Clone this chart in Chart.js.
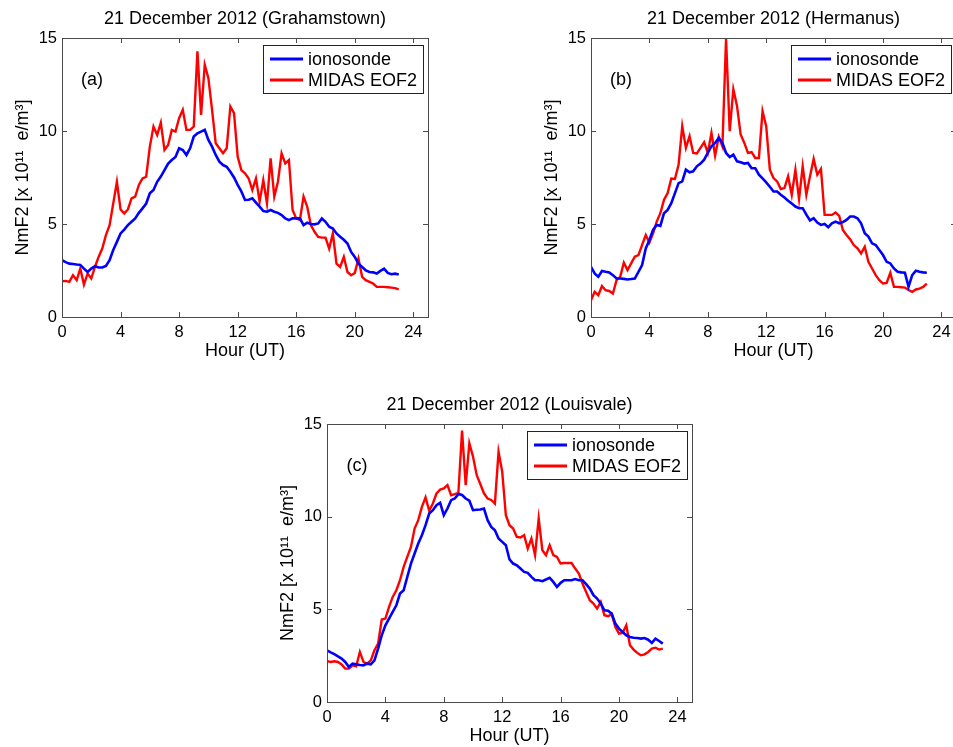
<!DOCTYPE html>
<html>
<head>
<meta charset="utf-8">
<script src="https://cdn.jsdelivr.net/npm/chart.js@4.4.0/dist/chart.umd.min.js"></script>
<style>
  body { margin: 0; background: #fff; overflow: hidden; }
  #page { position: relative; width: 953px; height: 747px; overflow: hidden; background: #fff; }
  .panel { position: absolute; }
  .panel canvas { display: block; }
</style>
</head>
<body>
<div id="page">
  <div class="panel"><canvas id="chartA"></canvas></div>
  <div class="panel"><canvas id="chartB"></canvas></div>
  <div class="panel"><canvas id="chartC"></canvas></div>
</div>
<script>
// Time axis (UT hours, 15 min steps)
const hours = [
  0, 0.25, 0.5, 0.75,   1, 1.25, 1.5, 1.75,   2, 2.25, 2.5, 2.75,
  3, 3.25, 3.5, 3.75,   4, 4.25, 4.5, 4.75,   5, 5.25, 5.5, 5.75,
  6, 6.25, 6.5, 6.75,   7, 7.25, 7.5, 7.75,   8, 8.25, 8.5, 8.75,
  9, 9.25, 9.5, 9.75,   10, 10.25, 10.5, 10.75, 11, 11.25, 11.5, 11.75,
  12, 12.25, 12.5, 12.75, 13, 13.25, 13.5, 13.75, 14, 14.25, 14.5, 14.75,
  15, 15.25, 15.5, 15.75, 16, 16.25, 16.5, 16.75, 17, 17.25, 17.5, 17.75,
  18, 18.25, 18.5, 18.75, 19, 19.25, 19.5, 19.75, 20, 20.25, 20.5, 20.75,
  21, 21.25, 21.5, 21.75, 22, 22.25, 22.5, 22.75, 23
];

const xTicks = [0, 4, 8, 12, 16, 20, 24];
const yTicks = [0, 5, 10, 15];
const seriesNames = ["ionosonde", "MIDAS EOF2"];

// Grahamstown (a)
const grahamIono = [
  3.05, 2.95, 2.87, 2.85,  2.82, 2.8, 2.6, 2.42,  2.6, 2.73, 2.66, 2.66,
  2.75, 3.05, 3.6, 4.04,  4.49, 4.7, 4.94, 5.12,  5.3, 5.6, 5.84, 6.1,
  6.65, 6.83, 7.27, 7.55,  7.9, 8.25, 8.44, 8.6,  9.07, 8.98, 8.71, 9.07,
  9.7, 9.88, 9.97, 10.06,  9.52, 9.16, 8.71, 8.35,  8.17, 8.08, 7.81, 7.5,
  7.1, 6.75, 6.29, 6.3,  6.38, 6.15, 5.93, 5.7,  5.66, 5.75, 5.66, 5.6,
  5.48, 5.3, 5.21, 5.3,  5.3, 5.3, 4.94, 5.07,  5.0, 4.98, 5.03, 5.3,
  5.12, 4.85, 4.76, 4.49,  4.31, 4.15, 3.95, 3.5,  3.23, 2.87, 2.69, 2.51,
  2.42, 2.4, 2.34, 2.48,  2.6, 2.37, 2.3, 2.33,  2.28
];
const grahamMidas = [
  1.92, 1.94, 1.89, 2.25,  1.98, 2.6, 1.74, 2.34,  2.07, 2.69, 3.23, 3.68,
  4.4, 4.94, 6.1, 7.27,  5.78, 5.57, 5.78, 6.38,  6.47, 7.1, 7.45, 7.54,
  9.16, 10.24, 9.79, 10.45,  8.98, 9.25, 10.06, 9.97,  10.69, 11.14, 10.06, 10.06,
  10.24, 14.28, 10.87, 13.56,  12.84, 11.14, 9.34, 9.07,  8.8, 9.07, 11.32, 10.96,
  8.62, 7.9, 7.72, 7.45,  6.83, 7.45, 6.2, 7.36,  6.11, 8.53, 6.47, 7.27,
  8.8, 8.26, 8.44, 5.75,  5.3, 5.21, 6.47, 5.93,  4.94, 4.58, 4.31, 4.27,
  4.27, 3.68, 4.49, 2.87,  2.69, 3.23, 2.42, 2.25,  2.37, 3.14, 2.16, 1.98,
  1.89, 1.8, 1.62, 1.62,  1.62, 1.6, 1.58, 1.55,  1.49
];

// Hermanus (b)
const hermIono = [
  2.7, 2.34, 2.16, 2.47,  2.43, 2.4, 2.25, 2.07,  2.07, 2.05, 2.02, 2.04,
  2.07, 2.43, 2.79, 3.69,  4.14, 4.68, 4.95, 4.9,  5.58, 5.76, 6.12, 6.66,
  7.2, 7.29, 7.92, 7.78,  7.83, 8.1, 8.25, 8.46,  8.82, 9.18, 9.36, 9.63,
  9.36, 8.82, 8.6, 8.73,  8.37, 8.32, 8.25, 8.28,  8.0, 8.0, 7.65, 7.45,
  7.24, 7.0, 6.75, 6.75,  6.57, 6.42, 6.25, 6.1,  5.94, 5.85, 5.85, 5.5,
  5.19, 5.31, 5.08, 4.95,  5.0, 4.83, 5.04, 5.13,  5.04, 5.1, 5.22, 5.4,
  5.4, 5.31, 5.04, 4.5,  4.32, 3.96, 3.87, 3.6,  3.33, 2.97, 2.88, 2.61,
  2.43, 2.4, 2.38, 1.62,  2.25, 2.49, 2.43, 2.4,  2.38
];
const hermMidas = [
  0.9, 1.35, 1.17, 1.67,  1.44, 1.4, 1.26, 1.98,  2.16, 2.92, 2.52, 2.88,
  3.24, 3.33, 3.87, 4.41,  4.0, 4.5, 5.13, 5.58,  6.3, 6.66, 7.44, 7.42,
  8.19, 10.26, 9.09, 9.72,  8.82, 8.79, 9.09, 9.4,  8.82, 9.9, 8.68, 9.69,
  9.18, 14.95, 9.99, 12.25,  11.35, 9.81, 9.36, 8.82,  8.86, 8.55, 8.55, 11.07,
  10.26, 7.92, 7.47, 7.29,  6.88, 6.93, 7.56, 6.57,  7.92, 6.34, 8.1, 6.57,
  7.56, 8.5, 7.65, 7.96,  5.49, 5.49, 5.49, 5.62,  5.44, 4.68, 4.41, 4.18,
  3.87, 3.69, 3.42, 3.78,  2.97, 2.61, 2.25, 1.98,  1.8, 1.83, 2.38, 1.62,
  1.62, 1.6, 1.58, 1.45,  1.35, 1.48, 1.53, 1.62,  1.8
];

// Louisvale (c)
const louisIono = [
  2.79, 2.68, 2.58, 2.46,  2.34, 2.16, 1.89, 2.07,  2.03, 2.0, 1.98, 2.07,
  2.03, 2.25, 2.88, 3.6,  4.14, 4.5, 4.86, 5.22,  5.85, 6.03, 6.75, 7.47,
  8.01, 8.55, 9.0, 9.54,  10.17, 10.35, 10.62, 10.75,  10.08, 10.44, 10.89, 10.98,
  11.22, 11.17, 10.98, 10.86,  10.35, 10.37, 10.39, 10.44,  9.81, 9.45, 9.27, 8.82,
  8.64, 8.46, 7.69, 7.47,  7.38, 7.2, 7.02, 6.97,  6.75, 6.57, 6.57, 6.52,
  6.61, 6.7, 6.48, 6.21,  6.43, 6.57, 6.57, 6.57,  6.63, 6.57, 6.57, 6.36,
  6.12, 5.76, 5.58, 5.31,  4.95, 4.92, 4.77, 4.23,  3.96, 3.78, 3.6, 3.51,
  3.47, 3.45, 3.42, 3.45,  3.36, 3.19, 3.42, 3.29,  3.15
];
const louisMidas = [
  2.21, 2.16, 2.2, 2.16,  2.03, 1.8, 1.8, 1.98,  1.93, 2.7, 2.16, 2.07,
  2.25, 2.79, 3.15, 4.45,  4.5, 5.13, 5.67, 6.03,  6.57, 7.29, 7.83, 8.37,
  9.36, 9.81, 10.53, 11.04,  10.32, 10.71, 11.25, 11.46,  11.52, 11.7, 11.16, 11.22,
  11.29, 14.64, 11.7, 13.96,  13.24, 12.25, 11.76, 11.26,  10.98, 10.9, 10.71, 13.5,
  12.43, 10.08, 9.54, 9.36,  8.91, 8.88, 9.0, 8.28,  8.82, 7.92, 9.9, 8.19,
  7.92, 8.46, 7.92, 7.83,  7.47, 7.5, 7.5, 7.5,  7.2, 6.93, 6.39, 5.94,
  5.49, 5.31, 5.04, 5.4,  4.68, 4.63, 4.74, 4.05,  3.69, 3.73, 4.14, 3.06,
  2.83, 2.65, 2.52, 2.57,  2.7, 2.88, 2.93, 2.83,  2.88
];

const FONT = "'Liberation Sans', Arial, Helvetica, sans-serif";
const AXIS_COLOR = "#4a4a4a";
Chart.defaults.font.family = FONT;
Chart.defaults.color = "#000";

// frame, inner ticks, title, panel tag and boxed legend (MATLAB look)
const matlabAxes = {
  id: "matlabAxes",
  afterDraw(chart, args, opts) {
    const ctx = chart.ctx;
    const { left, top, right, bottom } = chart.chartArea;
    const xs = chart.scales.x;
    const ys = chart.scales.y;
    ctx.save();
    ctx.strokeStyle = AXIS_COLOR;
    ctx.lineWidth = 1;
    ctx.beginPath();
    xs.ticks.forEach(t => {
      const px = Math.round(xs.getPixelForValue(t.value)) + 0.5;
      ctx.moveTo(px, bottom); ctx.lineTo(px, bottom - 5);
      ctx.moveTo(px, top); ctx.lineTo(px, top + 5);
    });
    ys.ticks.forEach(t => {
      const py = Math.round(ys.getPixelForValue(t.value)) + 0.5;
      ctx.moveTo(left, py); ctx.lineTo(left + 5, py);
      ctx.moveTo(right, py); ctx.lineTo(right - 5, py);
    });
    ctx.stroke();
    ctx.strokeRect(Math.round(left) + 0.5, Math.round(top) + 0.5,
                   Math.round(right - left), Math.round(bottom - top));

    // title
    ctx.fillStyle = "#000";
    ctx.font = "18px " + FONT;
    ctx.textAlign = "center";
    ctx.textBaseline = "middle";
    ctx.fillText(opts.title, (left + right) / 2, top - 19);

    // panel tag
    ctx.font = "18px " + FONT;
    ctx.fillText(opts.tag, left + 30, top + 42);

    // legend box
    const bw = 160, bh = 48;
    const bx = right - 165, by = top + 7;
    ctx.fillStyle = "#fff";
    ctx.fillRect(bx, by, bw, bh);
    ctx.strokeStyle = "#222";
    ctx.strokeRect(bx + 0.5, by + 0.5, bw, bh);
    ctx.font = "18px " + FONT;
    ctx.textAlign = "left";
    chart.data.datasets.forEach((ds, i) => {
      const ly = by + 14 + i * 21;
      ctx.strokeStyle = ds.borderColor;
      ctx.lineWidth = 3;
      ctx.beginPath();
      ctx.moveTo(bx + 7, ly); ctx.lineTo(bx + 40, ly);
      ctx.stroke();
      ctx.fillStyle = "#000";
      ctx.fillText(ds.label, bx + 45, ly + 1);
    });
    ctx.restore();
  }
};

// plot boxes in page pixels
const panels = [
  { id: "chartA", box: [62, 38, 428, 317], title: "21 December 2012 (Grahamstown)", tag: "(a)", iono: grahamIono, midas: grahamMidas },
  { id: "chartB", box: [591, 38, 956, 317], title: "21 December 2012 (Hermanus)", tag: "(b)", iono: hermIono, midas: hermMidas },
  { id: "chartC", box: [327, 424, 692, 702], title: "21 December 2012 (Louisvale)", tag: "(c)", iono: louisIono, midas: louisMidas }
];

const Y_AXIS_W = 62, X_AXIS_H = 55, PAD_TOP = 38, PAD_RIGHT = 48;

panels.forEach(p => {
  const [L, T, R, B] = p.box;
  const canvas = document.getElementById(p.id);
  const wrap = canvas.parentNode;
  wrap.style.left = (L - Y_AXIS_W) + "px";
  wrap.style.top = (T - PAD_TOP) + "px";
  canvas.width = (R - L) + Y_AXIS_W + PAD_RIGHT;
  canvas.height = (B - T) + PAD_TOP + X_AXIS_H;

  new Chart(canvas, {
    type: "line",
    data: {
      datasets: [{
        label: seriesNames[0],
        data: hours.map((h, i) => ({ x: h, y: p.iono[i] })),
        borderColor: "#0000ff",
        borderWidth: 2.6,
        fill: false,
      }, {
        label: seriesNames[1],
        data: hours.map((h, i) => ({ x: h, y: p.midas[i] })),
        borderColor: "#ff0000",
        borderWidth: 2.4,
        fill: false,
      }]
    },
    options: {
      responsive: false,
      animation: false,
      devicePixelRatio: 1,
      layout: { padding: { left: 0, top: PAD_TOP, right: PAD_RIGHT, bottom: 0 } },
      elements: { point: { radius: 0 }, line: { tension: 0 } },
      scales: {
        x: {
          type: "linear",
          min: 0,
          max: 25,
          afterFit: s => { s.height = X_AXIS_H; },
          afterBuildTicks: s => { s.ticks = xTicks.map(v => ({ value: v })); },
          border: { display: false },
          grid: { display: false, drawTicks: false },
          ticks: { padding: 6, maxRotation: 0, autoSkip: false, font: { size: 16.5 }, color: "#000" },
          title: { display: true, text: "Hour (UT)", color: "#000", font: { size: 18 }, padding: { top: 0, bottom: 10.2 } }
        },
        y: {
          min: 0,
          max: 15,
          afterFit: s => { s.width = Y_AXIS_W; },
          afterBuildTicks: s => { s.ticks = yTicks.map(v => ({ value: v })); },
          border: { display: false },
          grid: { display: false, drawTicks: false },
          ticks: { padding: 5, font: { size: 16.5 }, color: "#000" },
          title: { display: true, text: "NmF2 [x 10\u00B9\u00B9  e/m\u00B3]", color: "#000", font: { size: 18 }, padding: { top: 12.7, bottom: 0 } }
        }
      },
      plugins: {
        legend: { display: false },
        tooltip: { enabled: false },
        matlabAxes: { title: p.title, tag: p.tag }
      }
    },
    plugins: [matlabAxes]
  });
});
</script>
</body>
</html>
